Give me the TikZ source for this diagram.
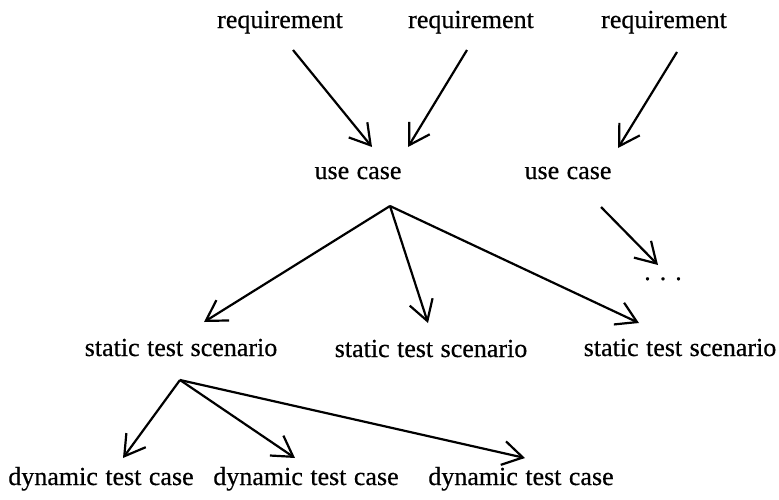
\documentclass[tikz,border=0pt]{standalone}
\usepackage{fontspec}
\setmainfont{Liberation Serif}
\newfontfamily\scanfont{Liberation Serif}[FakeBold=0.5,WordSpace=1.15]
\usetikzlibrary{arrows.meta}
\tikzset{
  lbl/.style={inner sep=0pt, anchor=base, font=\scanfont\fontsize{26}{30}\selectfont},
  arr/.style={line width=2.2pt, -{Straight Barb[length=20pt,width=24pt,line width=2.2pt]}}
}
\begin{document}
\begin{tikzpicture}[x=1pt,y=-1pt]
\useasboundingbox (0,0) rectangle (779,499);

%requirements
\node[lbl] (req1) at (280,28) {requirement};
\node[lbl] (req2) at (471,28) {requirement};
\node[lbl] (req3) at (664,28) {requirement};

%use cases
\node[lbl] (uc1) at (358,179) {use case};
\node[lbl] (uc2) at (568,179) {use case};
\node[lbl] (more) at (663,280) {.\hspace{9pt}.\hspace{9pt}.};

%static scenarios
\node[lbl] (sts1) at (181,356) {static test scenario};
\node[lbl] (sts2) at (431,357) {static test scenario};
\node[lbl] (sts3) at (680,356) {static test scenario};

%dynamic cases
\node[lbl] (dtc1) at (101,485) {dynamic test case};
\node[lbl] (dtc2) at (306,485) {dynamic test case};
\node[lbl] (dtc3) at (521,485) {dynamic test case};

%requirement -> use case
\draw[arr] ([shift={(13,22)}]req1.base) -- ([shift={(14,-32)}]uc1.base);
\draw[arr] ([shift={(-4,22)}]req2.base) -- ([shift={(50,-32)}]uc1.base);
\draw[arr] ([shift={(13,24)}]req3.base) -- ([shift={(50,-31)}]uc2.base);

%use case -> scenarios
\coordinate (hub1) at ([shift={(32,27)}]uc1.base);
\draw[arr] (hub1) -- ([shift={(23,-34)}]sts1.base);
\draw[arr] (hub1) -- ([shift={(-3,-34)}]sts2.base);
\draw[arr] (hub1) -- ([shift={(-41,-33)}]sts3.base);
\draw[arr] ([shift={(33,28)}]uc2.base) -- ([shift={(-5,-15)}]more.base);

%scenario -> dynamic cases
\coordinate (hub2) at ([shift={(-1,24)}]sts1.base);
\draw[arr] (hub2) -- ([shift={(22,-27)}]dtc1.base);
\draw[arr] (hub2) -- ([shift={(-11,-27)}]dtc2.base);
\draw[arr] (hub2) -- ([shift={(4,-27)}]dtc3.base);

\end{tikzpicture}
\end{document}
